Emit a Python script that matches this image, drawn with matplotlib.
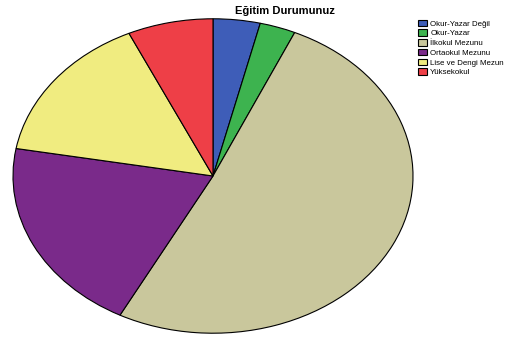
import matplotlib
matplotlib.use("Agg")
import matplotlib.pyplot as plt

categories = ["Okur-Yazar Değil", "Okur-Yazar", "İlkokul Mezunu",
              "Ortaokul Mezunu", "Lise ve Dengi Mezun", "Yüksekokul"]
values = [3.8, 2.9, 51.0, 20.1, 15.3, 6.9]
colors = ["#3E5DB8", "#3DB34F", "#C9C79C", "#7A2A8A", "#F0EC80", "#EE3F47"]

fig = plt.figure(figsize=(5.17, 3.38), dpi=100)
ax = fig.add_axes([12/517, 4/338, 402/517, 316/338])
wedges, _ = ax.pie(values, colors=colors, startangle=90, counterclock=False,
                   wedgeprops=dict(edgecolor="black", linewidth=0.8))
ax.set_aspect("auto")
ax.set_xlim(-1.005, 1.005)
ax.set_ylim(-1.005, 1.005)
ax.axis("off")

fig.text(285/517, 1 - 11/338, "Eğitim Durumunuz", ha="center", va="center",
         fontsize=8, fontweight="bold", family="Liberation Sans")

leg = fig.legend(wedges, categories, loc="upper left",
                 bbox_to_anchor=(412/517, 1 - 14/338),
                 frameon=False, handlelength=1.2, handleheight=0.9,
                 handletextpad=0.4, labelspacing=0.22, borderpad=0.2,
                 prop={"family": "Liberation Sans", "size": 5.7})

fig.savefig("out.png", dpi=100, facecolor="white")
